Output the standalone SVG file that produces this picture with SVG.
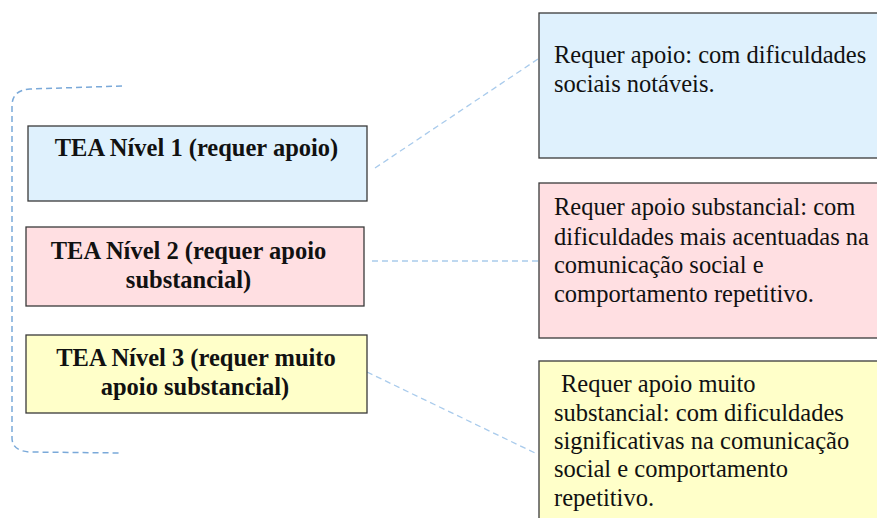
<svg xmlns="http://www.w3.org/2000/svg" width="877" height="518" viewBox="0 0 877 518">
  <style>
    .box { stroke: #3a3a3a; stroke-width: 1.3; }
    .blue { fill: #dff1fd; }
    .pink { fill: #ffdfe2; }
    .yellow { fill: #ffffc9; }
    .title { font-family: "Liberation Serif", "Times New Roman", serif; font-weight: bold; font-size: 24.5px; fill: #111; text-anchor: middle; }
    .desc { font-family: "Liberation Serif", "Times New Roman", serif; font-size: 24.5px; fill: #111; }
    .link { fill: none; stroke: #a9cbec; stroke-width: 1.3; stroke-dasharray: 6 4; }
    .brace { fill: none; stroke: #7aa9d9; stroke-width: 1.5; stroke-dasharray: 6 4; }
  </style>

  <!-- grouping bracket on the left -->
  <g id="bracket">
    <path class="brace" d="M122 86 L30 89 Q12 90 12 106 L12 438 Q12 451 30 452 L122 453"/>
  </g>

  <!-- dashed links between levels and descriptions -->
  <g id="connectors">
    <line class="link" x1="375" y1="168" x2="538" y2="59"/>
    <line class="link" x1="372" y1="261" x2="540" y2="261"/>
    <line class="link" x1="367" y1="372" x2="535" y2="453"/>
  </g>

  <g id="level1">
    <rect class="box blue" x="28" y="126" width="339" height="75"/>
    <text class="title" x="196.5" y="156">TEA Nível 1 (requer apoio)</text>
  </g>

  <g id="level2">
    <rect class="box pink" x="26" y="227" width="338" height="79"/>
    <text class="title" x="188.5" y="259">TEA Nível 2 (requer apoio</text>
    <text class="title" x="188.5" y="288">substancial)</text>
  </g>

  <g id="level3">
    <rect class="box yellow" x="26" y="335" width="341" height="78"/>
    <text class="title" x="196" y="366">TEA Nível 3 (requer muito</text>
    <text class="title" x="195" y="395">apoio substancial)</text>
  </g>

  <g id="desc1">
    <rect class="box blue" x="539" y="13" width="345" height="145"/>
    <text class="desc" x="554" y="63">Requer apoio: com dificuldades</text>
    <text class="desc" x="554" y="92">sociais notáveis.</text>
  </g>

  <g id="desc2">
    <rect class="box pink" x="539" y="183" width="345" height="155"/>
    <text class="desc" x="554" y="215">Requer apoio substancial: com</text>
    <text class="desc" x="554" y="245">dificuldades mais acentuadas na</text>
    <text class="desc" x="554" y="273">comunicação social e</text>
    <text class="desc" x="554" y="302">comportamento repetitivo.</text>
  </g>

  <g id="desc3">
    <rect class="box yellow" x="539" y="361" width="345" height="170"/>
    <text class="desc" x="561" y="392">Requer apoio muito</text>
    <text class="desc" x="554" y="421">substancial: com dificuldades</text>
    <text class="desc" x="554" y="449">significativas na comunicação</text>
    <text class="desc" x="554" y="477">social e comportamento</text>
    <text class="desc" x="554" y="506">repetitivo.</text>
  </g>
</svg>
